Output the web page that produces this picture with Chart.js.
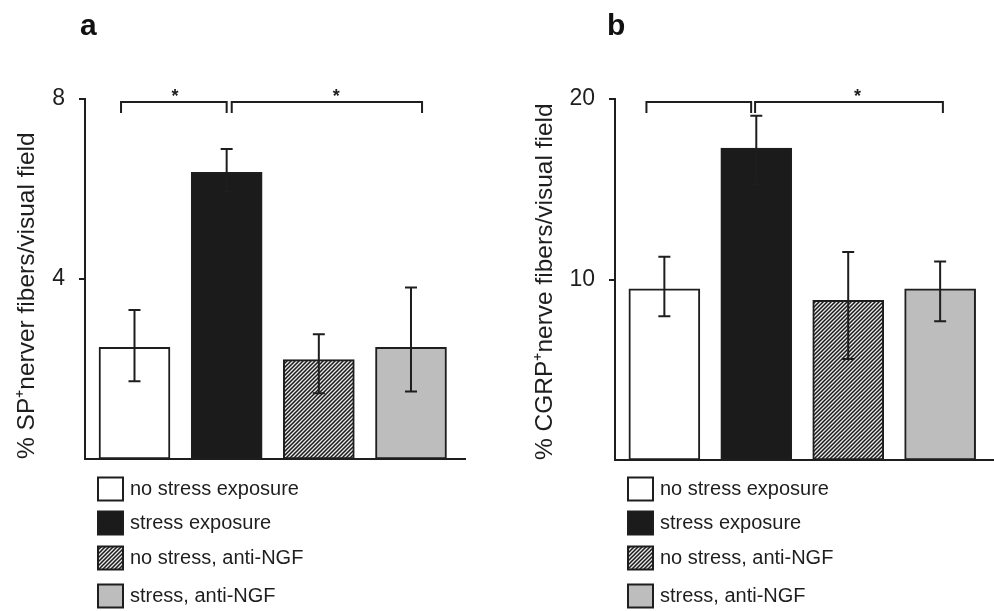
<!DOCTYPE html>
<html>
<head>
<meta charset="utf-8">
<script src="https://cdn.jsdelivr.net/npm/chart.js@4.4.1/dist/chart.umd.min.js"></script>
<style>
  body { margin: 0; background: #fff; }
  .panel { position: absolute; top: 0; width: 497px; height: 611px; }
</style>
</head>
<body>
<div class="panel" style="left:0"><canvas id="chart_a" width="497" height="611"></canvas></div>
<div class="panel" style="left:497px"><canvas id="chart_b" width="497" height="611"></canvas></div>
<script>
const groups = ["no stress exposure", "stress exposure", "no stress, anti-NGF", "stress, anti-NGF"];

// panel a: SP+ fibers
const sp_values = [2.48, 6.37, 2.21, 2.48];
const sp_upper = [3.31, 6.89, 2.77, 3.81];
const sp_lower = [1.73, 5.94, 1.46, 1.50];
const sp_ticks = [4, 8];

// panel b: CGRP+ fibers
const cgrp_values = [9.48, 17.28, 8.85, 9.48];
const cgrp_upper = [11.26, 19.07, 11.52, 11.0];
const cgrp_lower = [7.96, 15.26, 5.59, 7.69];
const cgrp_ticks = [10, 20];

const FONT = "'Liberation Sans', Arial, sans-serif";
const INK = "#1e1e1e";

// diagonal hatch for the anti-NGF bars
function hatch() {
  const c = document.createElement("canvas");
  c.width = 4; c.height = 4;
  const g = c.getContext("2d");
  g.fillStyle = "#e8e8e8";
  g.fillRect(0, 0, 4, 4);
  g.strokeStyle = "#1a1a1a";
  g.lineWidth = 1.5;
  g.beginPath();
  g.moveTo(-1, 5); g.lineTo(5, -1);
  g.moveTo(-1, 1); g.lineTo(1, -1);
  g.moveTo(3, 5); g.lineTo(5, 3);
  g.stroke();
  return g.createPattern(c, "repeat");
}
const fills = ["#ffffff", "#1b1b1b", hatch(), "#bdbdbd"];

const extras = {
  id: "extras",
  afterDatasetsDraw(chart, args, o) {
    const { ctx, chartArea, scales: { x, y } } = chart;
    ctx.save();
    ctx.strokeStyle = INK;
    ctx.lineWidth = 2;
    // error bars
    o.upper.forEach((u, i) => {
      const px = x.getPixelForValue(i);
      const t = y.getPixelForValue(u), b = y.getPixelForValue(o.lower[i]);
      ctx.beginPath();
      ctx.moveTo(px, t); ctx.lineTo(px, b);
      ctx.moveTo(px - 6, t); ctx.lineTo(px + 6, t);
      ctx.moveTo(px - 6, b); ctx.lineTo(px + 6, b);
      ctx.stroke();
    });
    // significance brackets
    const top = chartArea.top + 3;
    o.brackets.forEach(br => {
      const x0 = x.getPixelForValue(br.from), x1 = x.getPixelForValue(br.to);
      ctx.beginPath();
      ctx.moveTo(x0, top + 11); ctx.lineTo(x0, top); ctx.lineTo(x1, top); ctx.lineTo(x1, top + 11);
      ctx.stroke();
      if (br.star !== null) {
        ctx.fillStyle = INK;
        ctx.font = "bold 18px " + FONT;
        ctx.textAlign = "center";
        ctx.textBaseline = "middle";
        ctx.fillText("*", x.getPixelForValue(br.star), top - 5);
      }
    });
    // panel letter
    ctx.fillStyle = "#111";
    ctx.font = "bold 30px " + FONT;
    ctx.textAlign = "left";
    ctx.textBaseline = "alphabetic";
    ctx.fillText(o.letter, chartArea.left + o.letterDx, 35);
    // legend
    const rows = [489, 523, 558, 596];
    const bx = chartArea.left + 13;
    groups.forEach((g, i) => {
      ctx.fillStyle = fills[i];
      ctx.fillRect(bx, rows[i] - 11.5, 25, 23);
      ctx.strokeRect(bx, rows[i] - 11.5, 25, 23);
      ctx.fillStyle = INK;
      ctx.font = "20px " + FONT;
      ctx.textBaseline = "middle";
      ctx.fillText(g, bx + 32, rows[i]);
    });
    ctx.restore();
  }
};

function panel(id, values, upper, lower, ticks, label, axisWidth, titlePad, pad, brackets, letter, letterDx) {
  return new Chart(document.getElementById(id), {
    type: "bar",
    data: {
      datasets: [{
        data: values.map((v, i) => ({ x: i, y: v })),
        backgroundColor: fills,
        borderColor: INK,
        borderWidth: 2,
        borderSkipped: false,
        barThickness: 71,
      }],
    },
    options: {
      responsive: false,
      animation: false,
      layout: { padding: pad },
      plugins: {
        legend: { display: false },
        tooltip: { enabled: false },
        extras: { upper, lower, brackets, letter, letterDx },
      },
      scales: {
        x: {
          type: "linear",
          min: -0.537,
          max: 3.586,
          offset: false,
          z: 1,
          ticks: { display: false },
          grid: { display: false, offset: false },
          border: { display: true, color: INK, width: 2 },
          afterFit: s => { s.height = 0; },
        },
        y: {
          min: 0,
          max: ticks[ticks.length - 1],
          afterBuildTicks: s => { s.ticks = ticks.map(v => ({ value: v })); },
          ticks: { color: INK, padding: 14, font: { size: 23, family: FONT } },
          grid: { drawOnChartArea: false, drawTicks: true, tickLength: 6, color: INK, lineWidth: 2 },
          border: { display: true, color: INK, width: 2 },
          title: {
            display: true,
            text: label,
            align: "start",
            color: INK,
            font: { size: 24.5, family: FONT },
            padding: { top: titlePad, bottom: 0 },
          },
          afterFit: s => { s.width = axisWidth; },
        },
      },
    },
    plugins: [extras],
  });
}

panel("chart_a", sp_values, sp_upper, sp_lower, sp_ticks,
  "% SP\u207Anerver fibers/visual field", 85, 13,
  { top: 99, bottom: 152, left: 0, right: 32 },
  [{ from: -0.146, to: 1.0, star: 0.44 }, { from: 1.055, to: 3.12, star: 2.19 }],
  "a", -5);

panel("chart_b", cgrp_values, cgrp_upper, cgrp_lower, cgrp_ticks,
  "% CGRP\u207Anerve fibers/visual field", 118, 34,
  { top: 99, bottom: 151, left: 0, right: 0 },
  [{ from: -0.195, to: 0.944, star: null }, { from: 0.987, to: 3.03, star: 2.1 }],
  "b", -8);
</script>
</body>
</html>
